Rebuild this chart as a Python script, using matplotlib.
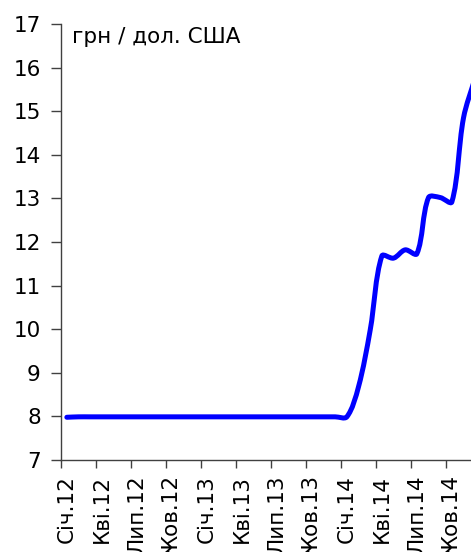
import numpy as np
import matplotlib
matplotlib.use("Agg")
import matplotlib.pyplot as plt
from matplotlib.path import Path
from matplotlib.patches import PathPatch
from matplotlib.transforms import IdentityTransform

# monthly UAH/USD rate, Jan 2012 - Dec 2014
rate_2012 = [7.98, 7.99, 7.99, 7.99, 7.99, 7.99, 7.99, 7.99, 7.99, 7.99, 7.99, 7.99]
rate_2013 = [7.99, 7.99, 7.99, 7.99, 7.99, 7.99, 7.99, 7.99, 7.99, 7.99, 7.99, 7.99]
rate_2014 = [7.99, 8.68, 9.98, 11.68, 11.63, 11.82, 11.73, 13.02, 13.02, 12.92, 14.85, 15.77]
rates = np.array(rate_2012 + rate_2013 + rate_2014)

tick_labels = ["Січ.12", "Кві.12", "Лип.12", "Жов.12",
               "Січ.13", "Кві.13", "Лип.13", "Жов.13",
               "Січ.14", "Кві.14", "Лип.14", "Жов.14"]
unit_label = "грн / дол. США"


def smooth_path(y, xscale=11.67, yscale=43.6):
    # excel-like smoothed line: bezier control arms scaled by segment length
    x = np.arange(len(y), dtype=float)
    pts = np.column_stack([x * xscale, np.asarray(y) * yscale])
    n = len(pts)
    verts = [pts[0]]
    codes = [Path.MOVETO]
    for i in range(n - 1):
        p0 = pts[max(i - 1, 0)]
        p1 = pts[i]
        p2 = pts[i + 1]
        p3 = pts[min(i + 2, n - 1)]
        l01 = np.hypot(*(p1 - p0))
        l12 = np.hypot(*(p2 - p1))
        l23 = np.hypot(*(p3 - p2))
        d1 = p2 - p0
        d2 = p3 - p1
        c1 = p1 + d1 * (l12 / (l01 + l12)) / 3
        c2 = p2 - d2 * (l12 / (l12 + l23)) / 3
        verts += [c1, c2, p2]
        codes += [Path.CURVE4] * 3
    verts = np.array(verts) / [xscale, yscale]
    return Path(verts, codes)


plt.rcParams['font.family'] = ['DejaVu Sans']
fs = 15.5

fig = plt.figure(figsize=(4.71, 5.52), dpi=100)
ax = fig.add_axes([61 / 471, 1 - 460 / 552, 1 - 61 / 471, (460 - 24) / 552])

ax.add_patch(PathPatch(smooth_path(rates), facecolor="none", edgecolor="#0000FF",
                       lw=3.6, capstyle="round", joinstyle="round"))

ax.set_ylim(7, 17)
ax.set_yticks(range(7, 18))
ax.set_xlim(-0.5, 34.64)

# ticks at the 3-month boundaries, labels centred on the months
ax.set_xticks(np.arange(-0.5, 35, 3))
ax.set_xticklabels([])
ax.tick_params(axis="x", which="major", length=6, width=1, color="#404040", direction="out")
ax.set_xticks(np.arange(0, 36, 3), minor=True)
ax.set_xticklabels(tick_labels, minor=True, rotation=90, fontsize=fs)
ax.tick_params(axis="x", which="minor", length=0, pad=11)

ax.tick_params(axis="y", length=7, width=1, color="#404040", labelsize=fs, pad=7.5)

for side in ["top", "right"]:
    ax.spines[side].set_visible(False)
for side in ["left", "bottom"]:
    ax.spines[side].set_color("#404040")
    ax.spines[side].set_linewidth(1)

fig.text(72, 552 - 37, unit_label, transform=IdentityTransform(),
         fontsize=fs, va="center", ha="left")

fig.savefig("out.png", dpi=100)
